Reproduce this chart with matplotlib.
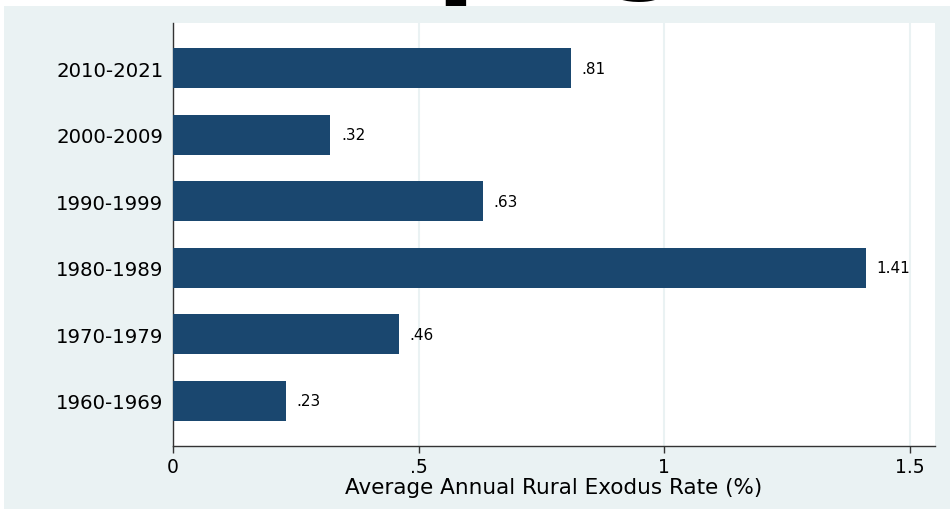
import matplotlib.pyplot as plt
from matplotlib.patches import Rectangle

# data
periods = ["1960-1969", "1970-1979", "1980-1989", "1990-1999", "2000-2009", "2010-2021"]
rates = [0.23, 0.46, 1.41, 0.63, 0.32, 0.81]
xticks = [0, 0.5, 1, 1.5]
xtick_labels = ["0", ".5", "1", "1.5"]

bar_color = "#1a476f"
bg_color = "#eaf2f3"

plt.rcParams["font.family"] = ["DejaVu Sans"]

fig = plt.figure(figsize=(9.5, 5.1), dpi=100)
fig.patch.set_facecolor("white")
# stata-like light background panel (behind the axes)
fig.patches.append(Rectangle((4 / 950, 0), 1, 503 / 510, transform=fig.transFigure,
                             facecolor=bg_color, edgecolor="none", zorder=-5))

# title sits mostly above the crop, only descenders show
fig.text(477 / 950, 1.037, "p", fontsize=84, fontweight="bold", ha="center",
         va="baseline", color="black", zorder=5)
fig.text(645 / 950, 1.045, "g", fontsize=84, fontweight="bold", ha="center",
         va="baseline", color="black", zorder=5)

ax = fig.add_axes([173 / 950, 63 / 510, 762 / 950, 423 / 510])
ax.set_zorder(2)
ax.set_facecolor("white")

ypos = list(range(len(periods)))
ax.barh(ypos, rates, height=0.6, color=bar_color, zorder=3)

for y, v in zip(ypos, rates):
    lbl = f"{v:.2f}".lstrip("0")
    ax.text(v + 0.022, y, lbl, va="center", ha="left", fontsize=11, color="black")

ax.set_xlim(0, 1.551)
ax.set_ylim(-0.68, 5.68)
ax.set_yticks(ypos)
ax.set_yticklabels(periods, fontsize=14.2)
ax.set_xticks(xticks)
ax.set_xticklabels(xtick_labels, fontsize=13.5)
ax.tick_params(axis="y", length=0, pad=7)
ax.tick_params(axis="x", length=5, width=1, pad=3, color="#333333")
ax.xaxis.grid(True, color=bg_color, linewidth=1.5, zorder=0)
ax.set_axisbelow(True)

for s in ["top", "right"]:
    ax.spines[s].set_visible(False)
for s in ["left", "bottom"]:
    ax.spines[s].set_color("#333333")
    ax.spines[s].set_linewidth(1)

ax.set_xlabel("Average Annual Rural Exodus Rate (%)", fontsize=15.5, labelpad=1)

plt.savefig("out.png", dpi=100)
